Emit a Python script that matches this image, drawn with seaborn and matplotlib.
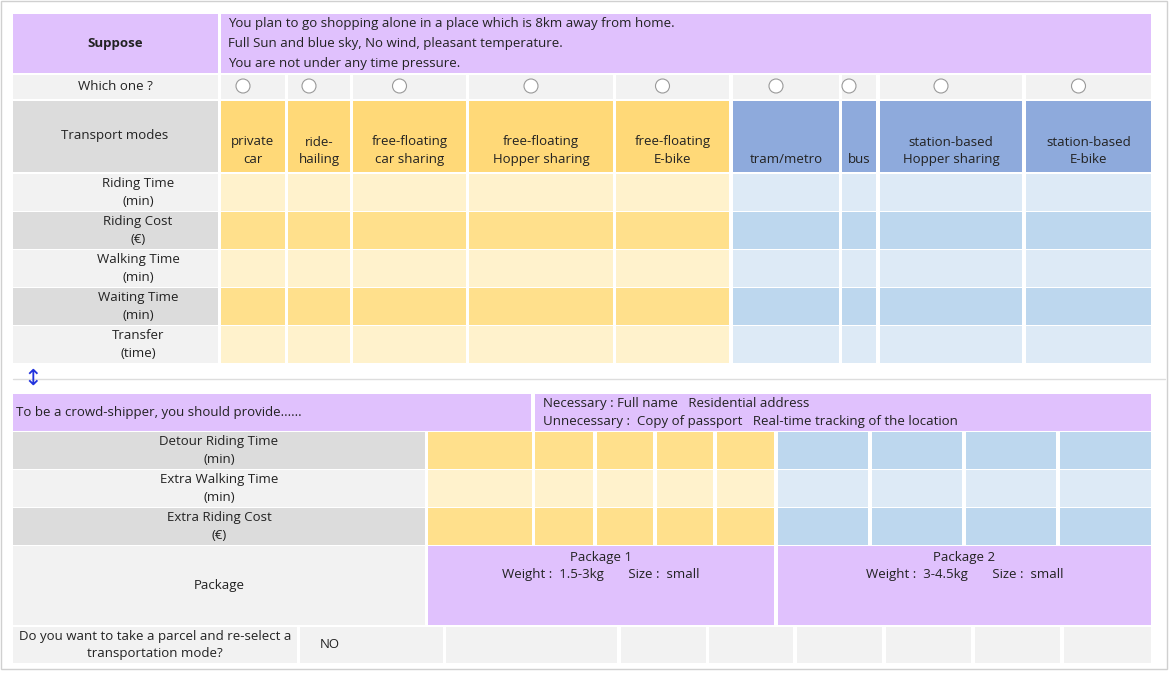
import matplotlib
matplotlib.use("Agg")
import matplotlib.pyplot as plt
import seaborn as sns
from matplotlib.patches import Rectangle

sns.set_theme(style="white")
plt.rcParams['font.family'] = ['Open Sans', 'DejaVu Sans']

suppose_lines = ["You plan to go shopping alone in a place which is 8km away from home.",
                 "Full Sun and blue sky, No wind, pleasant temperature.",
                 "You are not under any time pressure."]
modes = ["private\ncar", "ride-\nhailing", "free-floating\ncar sharing", "free-floating\nHopper sharing",
         "free-floating\nE-bike", "tram/metro", "bus", "station-based\nHopper sharing", "station-based\nE-bike"]
mode_group = ["y", "y", "y", "y", "y", "b", "b", "b", "b"]
mode_x = [(221, 285), (288, 350), (353, 466), (469, 613), (616, 729), (733, 839), (842, 876), (880, 1022), (1026, 1151)]
attr_rows = ["Riding Time\n(min)", "Riding Cost\n(€)", "Walking Time\n(min)", "Waiting Time\n(min)", "Transfer\n(time)"]
crowd_rows = ["Detour Riding Time\n(min)", "Extra Walking Time\n(min)", "Extra Riding Cost\n(€)"]
crowd_x = [(428, 532), (535, 593), (597, 653), (657, 713), (717, 774), (778, 868), (872, 962), (966, 1056), (1060, 1151)]
packages = ["Package 1\nWeight :  1.5-3kg       Size :  small", "Package 2\nWeight :  3-4.5kg       Size :  small"]
last_x = [(300, 443), (446, 617), (621, 706), (709, 793), (797, 882), (886, 971), (975, 1060), (1064, 1151)]

PURPLE = "#e0c1fd"; G1 = "#f2f2f2"; G2 = "#dcdcdc"
YH = "#ffd978"; YL = "#fff2cc"; YD = "#ffe08c"
BH = "#8eaadc"; BL = "#ddeaf6"; BD = "#bdd7ee"
FS = 9.5

fig = plt.figure(figsize=(11.7, 6.75), dpi=100)
ax = fig.add_axes([0, 0, 1, 1])
ax.set_xlim(0, 1170); ax.set_ylim(675, 0); ax.axis("off")

def cell(x0, x1, y0, y1, c, text=None, ha="center", tx=None, **kw):
    ax.add_patch(Rectangle((x0, y0), x1 - x0, y1 - y0, facecolor=c, edgecolor="none"))
    if text is not None:
        xx = tx if tx is not None else (x0 + x1) / 2
        ax.text(xx, (y0 + y1) / 2, text, ha=ha, va="center", fontsize=FS, color="#222222",
                linespacing=1.45, **kw)

ax.add_patch(Rectangle((1, 1), 1166, 668, facecolor="white", edgecolor="#d0d0d0", lw=1))
# Suppose
cell(13, 218, 14, 73, PURPLE, "Suppose", fontweight="bold")
cell(221, 1151, 14, 73, PURPLE)
for i, s in enumerate(suppose_lines):
    ax.text(228, 23 + i * 20, s, ha="left", va="center", fontsize=FS, color="#222222")
# Which one
cell(13, 218, 75, 99, G1, "Which one ?")
for (x0, x1) in mode_x:
    cell(x0, x1, 75, 99, G1)
    ax.add_patch(plt.Circle(((x0 + x1) / 2 - 10, 86), 7, facecolor="white", edgecolor="#999999", lw=0.8))
# Modes header
cell(13, 218, 101, 172, G2)
ax.text(115, 136, "Transport modes", ha="center", va="center", fontsize=FS, color="#222222")
for m, g, (x0, x1) in zip(modes, mode_group, mode_x):
    cell(x0, x1, 101, 172, YH if g == "y" else BH)
    ax.text((x0 + x1) / 2, 166, m, ha="center", va="bottom", fontsize=FS, color="#222222", linespacing=1.45)
# Attribute rows
for i, r in enumerate(attr_rows):
    y0 = 174 + i * 38; y1 = y0 + 37
    dark = i % 2 == 1
    cell(13, 218, y0, y1, G2 if dark else G1, r, tx=138)
    for g, (x0, x1) in zip(mode_group, mode_x):
        cell(x0, x1, y0, y1, (YD if dark else YL) if g == "y" else (BD if dark else BL))
ax.plot([13, 1165], [379, 379], color="#dddddd", lw=1)
ax.text(33, 379, "↕", ha="center", va="center", fontsize=16, color="#2233dd")
# Crowd-shipper
cell(13, 531, 394, 431, PURPLE, "To be a crowd-shipper, you should provide......", ha="left", tx=16)
cell(535, 1151, 394, 431, PURPLE)
ax.text(543, 403, "Necessary : Full name   Residential address", ha="left", va="center", fontsize=FS, color="#222222")
ax.text(543, 422, "Unnecessary :  Copy of passport   Real-time tracking of the location", ha="left", va="center", fontsize=FS, color="#222222")
for i, r in enumerate(crowd_rows):
    y0 = 432 + i * 38; y1 = y0 + 37
    dark = i % 2 == 0
    cell(13, 425, y0, y1, G2 if dark else G1, r)
    for j, (x0, x1) in enumerate(crowd_x):
        y = j < 5
        cell(x0, x1, y0, y1, (YD if dark else YL) if y else (BD if dark else BL))
# Package
cell(13, 425, 546, 625, G1, "Package")
for p, (x0, x1) in zip(packages, [(428, 774), (778, 1151)]):
    cell(x0, x1, 546, 625, PURPLE)
    ax.text((x0 + x1) / 2, 566, p, ha="center", va="center", fontsize=FS, color="#222222", linespacing=1.45)
# Last row
cell(13, 297, 627, 663, G1, "Do you want to take a parcel and re-select a\ntransportation mode?")
for j, (x0, x1) in enumerate(last_x):
    cell(x0, x1, 627, 663, G1, None)
ax.text(320, 645, "NO", ha="left", va="center", fontsize=FS, color="#222222")

fig.savefig("out.png", dpi=100)
